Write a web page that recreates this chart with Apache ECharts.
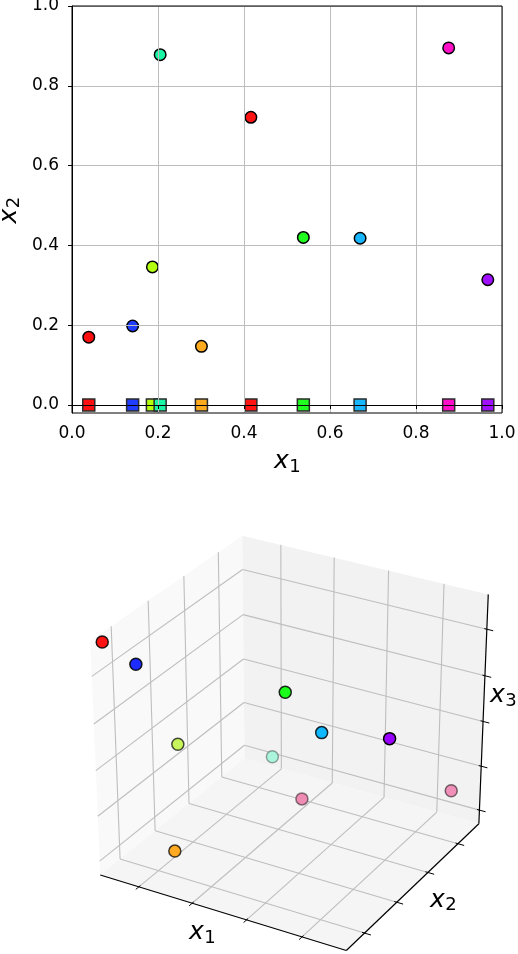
<!DOCTYPE html>
<html>
<head>
<meta charset="utf-8">
<script src="https://cdn.jsdelivr.net/npm/echarts@6/dist/echarts.min.js"></script>
<style>
html, body { margin: 0; padding: 0; background: #fff; }
#main { width: 518px; height: 954px; }
</style>
</head>
<body>
<div id="main"></div>
<script>
// sample points (same points in both panels)
var x1 = [0.039, 0.141, 0.187, 0.205, 0.301, 0.416, 0.538, 0.670, 0.876, 0.967];
var x2 = [0.170, 0.198, 0.346, 0.878, 0.147, 0.721, 0.420, 0.418, 0.895, 0.314];
var x3 = [0.894, 0.817, 0.404, 0.035, 0.096, 0.006, 0.696, 0.568, 0.091, 0.700];

var ticks2d = [0, 0.2, 0.4, 0.6, 0.8, 1.0];
var ticksX1 = [0.2, 0.4, 0.6, 0.8];
var ticksX2 = [0.2, 0.4, 0.6, 0.8];
var ticksX3 = [0, 0.2, 0.4, 0.6, 0.8];

var colors = ['#ff1010', '#1f3cff', '#b4ff10', '#1af5a5', '#ffaa1f',
              '#ff1414', '#20ff20', '#18b6ff', '#ff10c8', '#a010ff'];
// fills as they show in the 3d panel (depth shaded)
var colors3d = ['#ff1414', '#1f2cff', '#c8f55c', '#aaf5dc', '#ffaa22',
                '#ee8cb4', '#1aff1a', '#10b8ff', '#f090b8', '#9a00ff'];

// ---- 3d view, matplotlib style (elev 30, azim -60, perspective) ----
var box = [[0.053, 0.957], [0.090, 0.943], [-0.063, 0.947]];
var elev = 30 * Math.PI / 180, azim = -60 * Math.PI / 180, dist = 10;
var W = [Math.cos(elev) * Math.cos(azim), Math.cos(elev) * Math.sin(azim), Math.sin(elev)];
var U = [-W[1], W[0], 0];
var un = Math.sqrt(U[0] * U[0] + U[1] * U[1]);
U = [U[0] / un, U[1] / un, 0];
var V = [W[1] * U[2] - W[2] * U[1], W[2] * U[0] - W[0] * U[2], W[0] * U[1] - W[1] * U[0]];
var eye = [0.5 + dist * W[0], 0.5 + dist * W[1], 0.5 + dist * W[2]];
// view plane -> pixels
var sx = 2840, cx = 292.5, sy = 2675, cy = 736;

function dot(a, b) { return a[0] * b[0] + a[1] * b[1] + a[2] * b[2]; }
function projT(t) {
    var d = [t[0] - eye[0], t[1] - eye[1], t[2] - eye[2]];
    var zd = -dot(W, d);
    return [dot(U, d) / zd, dot(V, d) / zd, zd];
}
function nt(k, v) { return (v - box[k][0]) / (box[k][1] - box[k][0]); }

var pts3d = x1.map(function (v, i) {
    return { i: i, q: projT([nt(0, v), nt(1, x2[i]), nt(2, x3[i])]) };
});
var zmin = Math.min.apply(null, pts3d.map(function (p) { return p.q[2]; }));
var zmax = Math.max.apply(null, pts3d.map(function (p) { return p.q[2]; }));
pts3d.sort(function (a, b) { return b.q[2] - a.q[2]; });
var data3d = pts3d.map(function (p) {
    var a = 1 - 0.65 * (p.q[2] - zmin) / (zmax - zmin);
    return {
        value: [p.q[0], p.q[1]],
        itemStyle: { color: colors3d[p.i], borderColor: 'rgba(0,0,0,' + a.toFixed(2) + ')' }
    };
});

function renderBox(params, api) {
    function pt(t) { var q = projT(t); return api.coord([q[0], q[1]]); }
    function poly(ts, fill) {
        return { type: 'polygon', silent: true, shape: { points: ts.map(pt) }, style: { fill: fill } };
    }
    function seg(a, b, color, w) {
        var p = pt(a), q = pt(b);
        return { type: 'line', silent: true,
            shape: { x1: p[0], y1: p[1], x2: q[0], y2: q[1] },
            style: { stroke: color, lineWidth: w } };
    }
    var ch = [];
    ch.push(poly([[0, 0, 0], [0, 1, 0], [0, 1, 1], [0, 0, 1]], '#f9f9f9'));
    ch.push(poly([[0, 1, 0], [1, 1, 0], [1, 1, 1], [0, 1, 1]], '#f2f2f2'));
    ch.push(poly([[0, 0, 0], [1, 0, 0], [1, 1, 0], [0, 1, 0]], '#f5f5f5'));
    var g = '#bebebe';
    ticksX1.forEach(function (v) {
        var a = nt(0, v);
        ch.push(seg([a, 0, 0], [a, 1, 0], g, 1.1));
        ch.push(seg([a, 1, 0], [a, 1, 1], g, 1.1));
    });
    ticksX2.forEach(function (v) {
        var b = nt(1, v);
        ch.push(seg([0, b, 0], [1, b, 0], g, 1.1));
        ch.push(seg([0, b, 0], [0, b, 1], g, 1.1));
    });
    ticksX3.forEach(function (v) {
        var c = nt(2, v);
        ch.push(seg([0, 0, c], [0, 1, c], g, 1.1));
        ch.push(seg([0, 1, c], [1, 1, c], g, 1.1));
    });
    // axes
    ch.push(seg([0, 0, 0], [1, 0, 0], '#000', 1.2));
    ch.push(seg([1, 0, 0], [1, 1, 0], '#000', 1.2));
    ch.push(seg([1, 1, 0], [1, 1, 1], '#000', 1.2));
    ticksX1.forEach(function (v) {
        var a = nt(0, v);
        ch.push(seg([a, -0.02, 0], [a, 0.01, 0], '#000', 1));
    });
    ticksX2.forEach(function (v) {
        var b = nt(1, v);
        ch.push(seg([0.99, b, 0], [1.025, b, 0], '#000', 1));
    });
    ticksX3.forEach(function (v) {
        var c = nt(2, v);
        ch.push(seg([0.99, 1, c], [1.025, 1, c], '#000', 1));
    });
    return { type: 'group', children: ch };
}

function mathLabel(x, y, sub, rot) {
    return {
        type: 'group', x: x, y: y, rotation: rot || 0, silent: true,
        children: [
            { type: 'text', x: -6.5, y: 0, style: { text: 'x', font: 'italic 25px "DejaVu Sans"', fill: '#000',
                align: 'center', verticalAlign: 'middle', textAlign: 'center', textVerticalAlign: 'middle' } },
            { type: 'text', x: 7, y: 5.5, style: { text: sub, font: '18px "DejaVu Sans"', fill: '#000',
                align: 'center', verticalAlign: 'middle', textAlign: 'center', textVerticalAlign: 'middle' } }
        ]
    };
}

var fmt = function (v) { return v.toFixed(1); };
var labelStyle = { color: '#000', fontSize: 17, fontFamily: 'DejaVu Sans' };

var chart = echarts.init(document.getElementById('main'));
chart.setOption({
    animation: false,
    backgroundColor: '#fff',
    grid: [
        { left: 72, top: 6, width: 430, height: 407, show: true, borderColor: '#000', borderWidth: 1,
          backgroundColor: 'transparent', z: 10, outerBoundsMode: 'none' },
        { left: 0, top: 0, width: 518, height: 954, outerBoundsMode: 'none' }
    ],
    xAxis: [
        { type: 'value', gridIndex: 0, min: 0, max: 1, interval: 0.2, z: 5,
          axisLine: { lineStyle: { color: '#000', width: 1 } },
          axisTick: { length: 4, lineStyle: { color: '#000' } },
          axisLabel: Object.assign({ margin: 12, formatter: fmt }, labelStyle),
          splitLine: { show: true, lineStyle: { color: '#bdbdbd', width: 1 } } },
        { type: 'value', gridIndex: 1, show: false, min: -cx / sx, max: (518 - cx) / sx }
    ],
    yAxis: [
        { type: 'value', gridIndex: 0, min: -0.02, max: 1, z: 5,
          axisLine: { lineStyle: { color: '#000', width: 1 } },
          axisTick: { length: 4, lineStyle: { color: '#000' }, customValues: ticks2d },
          axisLabel: Object.assign({ margin: 13, formatter: fmt, customValues: ticks2d }, labelStyle),
          splitLine: { show: true, lineStyle: { color: '#bdbdbd', width: 1 } } },
        { type: 'value', gridIndex: 1, show: false, min: (cy - 954) / sy, max: cy / sy }
    ],
    graphic: [
        mathLabel(288, 461.5, '1'),
        mathLabel(9.2, 209.5, '2', Math.PI / 2),
        mathLabel(203, 932.5, '1'),
        mathLabel(444, 900, '2'),
        mathLabel(504, 695.5, '3')
    ],
    series: [
        { type: 'scatter', xAxisIndex: 0, yAxisIndex: 0, clip: false, z: 2,
          symbol: 'rect', symbolSize: 12,
          itemStyle: { borderColor: '#2a2a2a', borderWidth: 1.5, opacity: 1 },
          data: x1.map(function (v, i) { return { value: [v, 0], itemStyle: { color: colors[i] } }; }) },
        { type: 'scatter', xAxisIndex: 0, yAxisIndex: 0, clip: false, z: 2,
          symbol: 'circle', symbolSize: 11.5,
          itemStyle: { borderColor: '#000', borderWidth: 1.5, opacity: 1 },
          data: x1.map(function (v, i) { return { value: [v, x2[i]], itemStyle: { color: colors[i] } }; }) },
        { type: 'custom', xAxisIndex: 1, yAxisIndex: 1, silent: true, z: 1,
          renderItem: renderBox, data: [[0, 0]] },
        { type: 'scatter', xAxisIndex: 1, yAxisIndex: 1, clip: false, z: 3,
          symbol: 'circle', symbolSize: 12,
          itemStyle: { borderWidth: 1.5, opacity: 1 },
          data: data3d }
    ]
});
</script>
</body>
</html>
